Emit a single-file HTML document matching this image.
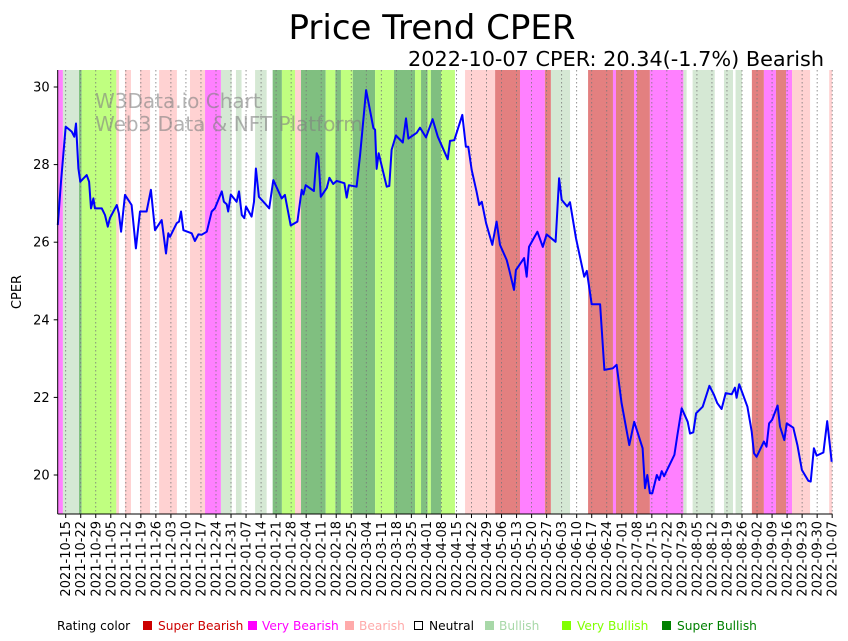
<!DOCTYPE html>
<html><head><meta charset="utf-8"><style>
body{margin:0;background:#fff;width:848px;height:641px;overflow:hidden;font-family:"DejaVu Sans","Liberation Sans",sans-serif}
svg{display:block}
</style></head><body>
<svg id="chart" width="848" height="641" viewBox="0 0 848 641" xmlns="http://www.w3.org/2000/svg" font-family="DejaVu Sans, Liberation Sans, sans-serif">
<text x="432" y="39" text-anchor="middle" font-size="34" fill="#000">Price Trend CPER</text>
<text x="824" y="66" text-anchor="end" font-size="20.8" fill="#000">2022-10-07 CPER: 20.34(-1.7%) Bearish</text>
<g id="bands"></g>
<g id="grid"></g>
<text x="95" y="108" font-size="20" fill="#808080" fill-opacity="0.6">W3Data.io Chart</text>
<text x="95" y="131" font-size="20" fill="#808080" fill-opacity="0.6">Web3 Data &amp; NFT Platform</text>
<g id="line"></g>
<g id="axes"></g>
<text transform="translate(21,292) rotate(-90)" text-anchor="middle" font-size="13">CPER</text>
<g font-size="12.2">
<text x="57" y="630">Rating color</text>
<rect x="143" y="621" width="9" height="9" fill="#cc0000"/>
<text x="158" y="630" fill="#cc0000">Super Bearish</text>
<rect x="248" y="621" width="9" height="9" fill="#ff00ff"/>
<text x="262" y="630" fill="#ff00ff">Very Bearish</text>
<rect x="345" y="621" width="9" height="9" fill="#ffaaaa"/>
<text x="359" y="630" fill="#ffaaaa">Bearish</text>
<rect x="414.5" y="621.5" width="8" height="8" fill="none" stroke="#000"/>
<text x="429" y="630" fill="#000">Neutral</text>
<rect x="485" y="621" width="9" height="9" fill="#a8d8a8"/>
<text x="499" y="630" fill="#a8d8a8">Bullish</text>
<rect x="562" y="621" width="9" height="9" fill="#80ff00"/>
<text x="577" y="630" fill="#80ff00">Very Bullish</text>
<rect x="662" y="621" width="9" height="9" fill="#008000"/>
<text x="677" y="630" fill="#008000">Super Bullish</text>
</g>
</svg>
<script>
// day offsets from 2021-10-15 and prices
const priceDays=[-3.7,-2.2,0,2.8,4.0,4.8,5.9,6.8,9.8,10.9,11.8,12.9,13.6,16.8,18.3,19.6,20.6,23.8,24.8,25.8,27.6,30.7,32.7,34.6,37.7,39.7,41.6,44.7,46.7,47.8,48.6,51.7,52.8,53.7,54.8,58.7,60.2,61.8,63.3,65.7,68.0,69.5,72.7,73.7,75.0,75.7,76.9,79.6,80.7,82.0,83.2,84.0,86.6,87.7,88.6,90.0,92.8,94.8,96.7,100.6,102.1,104.8,107.9,109.9,110.7,111.8,115.6,116.9,117.7,118.8,121.6,122.8,124.6,126.2,129.8,130.9,131.9,135.5,137.1,139.9,143.3,144.1,144.8,145.8,149.5,150.7,151.8,153.8,157.0,158.5,159.6,163.5,165.0,167.8,170.9,173.3,177.9,179.0,181.0,184.7,186.4,187.5,189.1,191.4,192.6,193.8,195.8,198.7,200.7,202.3,205.4,206.6,208.8,209.7,213.5,214.7,215.8,219.7,222.2,224.0,228.2,229.8,231.0,233.6,234.9,237.7,241.5,242.7,245.0,248.9,250.9,254.8,256.6,258.9,262.5,264.8,268.7,269.8,270.9,272.1,273.2,275.3,276.5,277.6,278.7,283.5,284.9,286.9,289.7,290.8,292.3,293.6,296.7,299.8,302.0,303.5,305.5,307.4,310.2,311.7,312.5,313.7,317.5,319.5,320.6,321.8,325.2,326.4,327.6,329.0,331.6,332.7,334.7,335.8,338.9,340.8,342.9,345.9,347.0,348.5,349.8,352.9,354.7,356.8];
const prices=[26.44,27.56,28.98,28.85,28.72,29.06,27.90,27.56,27.73,27.56,26.87,27.13,26.87,26.87,26.70,26.40,26.62,26.96,26.74,26.27,27.22,26.96,25.84,26.79,26.79,27.35,26.31,26.57,25.71,26.23,26.14,26.49,26.53,26.79,26.31,26.23,26.03,26.20,26.19,26.27,26.79,26.87,27.31,27.04,26.98,26.79,27.23,27.04,27.31,26.70,26.62,26.92,26.66,27.04,27.90,27.17,27.00,26.87,27.60,27.13,27.22,26.43,26.53,27.35,27.23,27.47,27.32,28.29,28.20,27.17,27.40,27.66,27.50,27.58,27.52,27.15,27.47,27.43,28.25,29.92,28.94,28.90,27.89,28.29,27.43,27.45,28.38,28.75,28.57,29.19,28.67,28.82,28.95,28.70,29.17,28.72,28.14,28.61,28.63,29.28,28.46,28.46,27.86,27.30,26.96,27.04,26.49,25.93,26.53,25.93,25.54,25.28,24.77,25.28,25.59,25.11,25.88,26.27,25.88,26.20,26.01,27.65,27.09,26.92,27.03,26.10,25.11,25.26,24.40,24.40,22.71,22.75,22.84,21.85,20.77,21.37,20.69,19.66,20.00,19.53,19.53,20.00,19.87,20.10,19.97,20.52,21.03,21.72,21.37,21.07,21.10,21.59,21.76,22.30,22.06,21.85,21.70,22.11,22.08,22.25,21.99,22.34,21.76,21.12,20.56,20.47,20.86,20.73,21.33,21.42,21.79,21.25,20.90,21.33,21.22,20.77,20.13,19.85,19.83,20.69,20.50,20.58,21.39,20.34];
// rating bands: start day, end day, rating
const bandStarts=[-3.7,-1.3,6.2,7.4,23.6,27.6,34.6,43.5,57.9,64.9,72.3,79.3,88.2,96.4,100.7,106.8,109.6,121.1,125.6,128.2,133.7,144.1,152.9,162.7,165.5,168.6,170.1,174.8,186.0,200.0,211.6,223.2,226.0,243.3,254.9,256.3,264.7,266.1,272.1,287.7,292.0,306.6,312.0,319.6,325.2,330.8,335.5,338.3,355.6];
const bandEnds=[-1.3,6.2,7.4,23.6,24.8,30.4,39.3,51.8,64.9,72.3,77.3,81.9,93.6,100.7,106.8,109.6,121.1,125.6,128.2,133.7,144.1,152.9,162.7,165.5,168.6,170.1,174.8,181.3,200.0,211.6,223.2,226.0,234.9,254.9,256.3,264.7,266.1,272.1,287.7,289.2,302.3,310.8,315.0,325.2,330.8,335.5,338.3,346.7,357.0];
const bandRatings=["very-bearish","bullish","super-bullish","very-bullish","bearish","bearish","bearish","bearish","bearish","very-bearish","bullish","bullish","bullish","super-bullish","very-bullish","bearish","super-bullish","very-bullish","super-bullish","very-bullish","super-bullish","very-bullish","super-bullish","very-bullish","super-bullish","very-bullish","super-bullish","very-bullish","bearish","super-bearish","very-bearish","super-bearish","bullish","super-bearish","very-bearish","super-bearish","very-bearish","super-bearish","very-bearish","bullish","bullish","bullish","bullish","super-bearish","very-bearish","super-bearish","very-bearish","bearish","bearish"];
const yTicks=[20,22,24,26,28,30];
const tickCount=52;

const ratingColors={"super-bearish":"#e38080","very-bearish":"#ff80ff","bearish":"#ffd2d2","bullish":"#d5e8d4","very-bullish":"#c0ff80","super-bullish":"#80bf80"};
const L=57.7,R=832.5,T=70,B=514;
const x=d=>65.7+d*2.147;
const y=p=>475-(p-20)*38.8;
const NS="http://www.w3.org/2000/svg";
function mk(tag,attrs,parent){const e=document.createElementNS(NS,tag);for(const k in attrs)e.setAttribute(k,attrs[k]);parent.appendChild(e);return e;}

const bandsG=document.getElementById('bands');
for(let i=0;i<bandStarts.length;i++){
  const r=mk('rect',{x:x(bandStarts[i]),y:T,width:Math.max(0,x(bandEnds[i])-x(bandStarts[i])),height:B-T,fill:ratingColors[bandRatings[i]]},bandsG);
  
  
}
const gridG=document.getElementById('grid');
const axesG=document.getElementById('axes');
const start=new Date(Date.UTC(2021,9,15));
for(let i=0;i<tickCount;i++){
  const d=i*7, xx=x(d);
  const g=mk('line',{x1:xx,x2:xx,y1:T,y2:B,stroke:'#777','stroke-width':0.8,'stroke-dasharray':'1.5,2.5'},gridG);
  
  
  mk('line',{x1:xx,x2:xx,y1:B,y2:B+4,stroke:'#000','stroke-width':1},axesG);
  const dt=new Date(start.getTime()+d*86400000);
  const lab=dt.toISOString().slice(0,10);
  const t=mk('text',{transform:`translate(${xx+4.5},${B+7}) rotate(-90)`,'text-anchor':'end','font-size':13},axesG);
  t.textContent=lab;
  
  
}
yTicks.forEach(v=>{
  mk('line',{x1:L-4,x2:L,y1:y(v),y2:y(v),stroke:'#000'},axesG);
  const t=mk('text',{x:L-8,y:y(v)+4.5,'text-anchor':'end','font-size':13},axesG);
  t.textContent=v;
  
  
});
mk('line',{x1:L,x2:L,y1:T,y2:B,stroke:'#000','stroke-width':1},axesG);
mk('line',{x1:L,x2:R,y1:B,y2:B,stroke:'#000','stroke-width':1},axesG);

const lineG=document.getElementById('line');
const pts=priceDays.map((d,i)=>x(d).toFixed(1)+','+y(prices[i]).toFixed(1)).join(' ');
const pl=mk('polyline',{points:pts,fill:'none',stroke:'#0000ff','stroke-width':2,'stroke-linejoin':'round'},lineG);


</script>
</body></html>
